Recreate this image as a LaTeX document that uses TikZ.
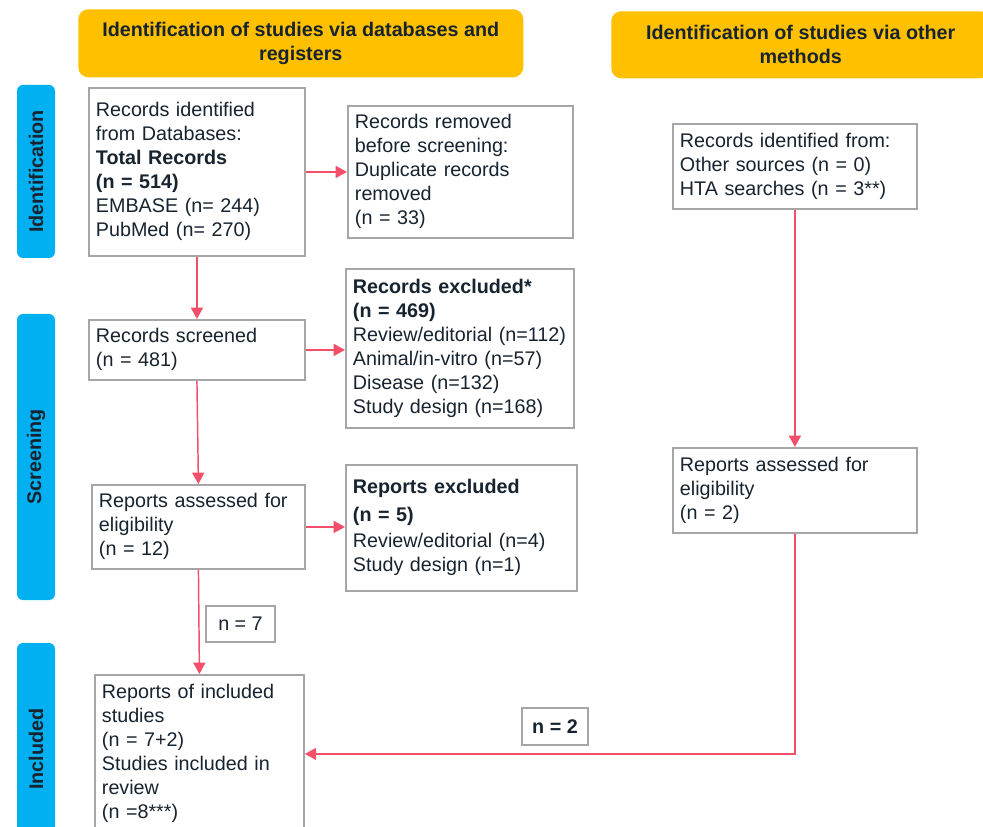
\documentclass[tikz,border=0pt]{standalone}
\usepackage{fontspec}
\setmainfont{Liberation Sans}
\usetikzlibrary{arrows.meta,calc}
\definecolor{hdr}{HTML}{FFC000}
\definecolor{barblue}{HTML}{00B0F0}
\definecolor{boxgray}{HTML}{A6A6A6}
\definecolor{arr}{HTML}{F2506A}
\definecolor{ink}{HTML}{17232F}
\newcommand{\fs}{\fontsize{14.8pt}{18pt}\selectfont}
\newcommand{\tl}[1]{\begin{tabular}{@{}l@{}}#1\end{tabular}}
\begin{document}
\begin{tikzpicture}[x=0.75pt,y=-0.75pt,
 every node/.style={text=ink,font=\fs},
 pbox/.style={draw=boxgray,line width=1.4pt,fill=white,anchor=north west,inner xsep=5.25pt,inner ysep=0pt,align=left},
 nbox/.style={draw=boxgray,line width=1.4pt,fill=white,inner sep=0pt,align=center},
 header/.style={fill=hdr,rounded corners=7.5pt,anchor=north west,align=center,font=\fs\bfseries,inner sep=0pt},
 stage/.style={fill=barblue,rounded corners=4.5pt,rotate=90,minimum height=28.5pt,inner sep=0pt,font=\fs\bfseries},
 link/.style={draw=arr,line width=1.1pt,-{Triangle[length=8.5pt,width=9pt]}}]
\useasboundingbox (0,0) rectangle (983,827);
\clip (0,0) rectangle (983,827);

% headers
\node[header, minimum width=333.75pt, minimum height=51pt] (H1) at (78,9) {Identification of studies via databases and\\registers};
\node[header, minimum width=284.25pt, minimum height=50.25pt] (H2) at (611,11) {Identification of studies via other\\methods};

% stage bars
\node[stage, minimum width=129.75pt] (S1) at (36,171.5) {Identification};
\node[stage, minimum width=214.5pt] (S2) at (36,457) {Screening};
\node[stage, minimum width=159pt] (S3) at (36,749) {Included};

% boxes
\node[pbox, text width=151.5pt, minimum height=126pt] (B1) at (88,87) {\tl{Records identified\\ from Databases:\\ \textbf{Total Records}\\ \textbf{(n = 514)}\\ EMBASE (n= 244)\\ PubMed (n= 270)}};
\node[pbox, text width=158.25pt, minimum height=99pt] (B2) at (347,105) {\tl{Records removed\\ before screening:\\ Duplicate records\\ removed\\ (n = 33)}};
\node[pbox, text width=172.5pt, minimum height=63.75pt] (B3) at (672,123) {\tl{Records identified from:\\ Other sources (n = 0)\\ HTA searches (n = 3**)}};
\node[pbox, text width=151.5pt, minimum height=45pt] (B4) at (88,319) {\tl{Records screened\\ (n = 481)}};
\node[pbox, text width=160.5pt, minimum height=119.25pt] (B5) at (345,268) {\tl{\textbf{Records excluded*}\\ \textbf{(n = 469)}\\ Review/editorial (n=112)\\ Animal/in-vitro (n=57)\\ Disease (n=132)\\ Study design (n=168)}};
\node[pbox, text width=149.25pt, minimum height=63pt] (B6) at (91,484) {\tl{Reports assessed for\\ eligibility\\ (n = 12)}};
\node[pbox, text width=162.75pt, minimum height=94.5pt] (B7) at (345,464) {\tl{\textbf{Reports excluded}\\[3pt] \textbf{(n = 5)}\\[1.5pt] Review/editorial (n=4)\\ Study design (n=1)}};
\node[pbox, text width=172.5pt, minimum height=63.75pt] (B8) at (672,447) {\tl{Reports assessed for\\ eligibility\\ (n = 2)}};
\node[pbox, text width=146.25pt, minimum height=118.5pt] (B9) at (94,674) {\tl{Reports of included\\ studies\\ (n = 7+2)\\ Studies included in\\ review\\ (n =8***)}};

\node[nbox, minimum width=51.75pt, minimum height=27pt] (N7) at (240.5,624) {n = 7};
\node[nbox, minimum width=49.5pt, minimum height=27.75pt, font=\fs\bfseries] (N2) at (555,726.5) {n = 2};

% connectors
\draw[link] (B1.south) -- (B4.north);
\draw[link] (B1.east) -- (B1.east -| B2.west);
\draw[link] (B4.east) -- (B4.east -| B5.west);
\draw[link] (B4.south) -- (B6.north);
\draw[link] (B6.east) -- (B6.east -| B7.west);
\draw[link] (B6.south) -- (B9.north);
\draw[link] (B3.south) -- (B8.north);
\draw[link] (B8.south) |- (B9.east);
\end{tikzpicture}
\end{document}
